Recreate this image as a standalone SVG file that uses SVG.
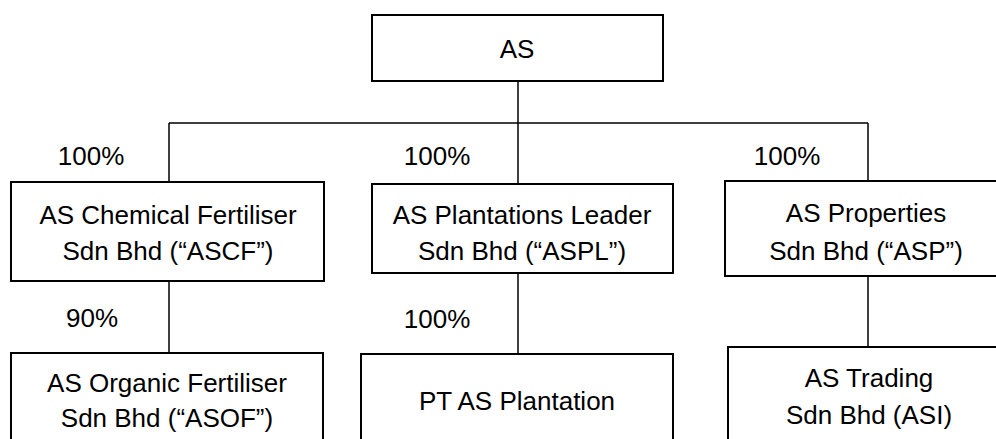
<svg xmlns="http://www.w3.org/2000/svg" width="996" height="439" viewBox="0 0 996 439">
<style>
.box{fill:#fff;stroke:#000;stroke-width:2}
.ln{fill:none;stroke:#000;stroke-width:1.5}
text{font-family:"Liberation Sans",Arial,sans-serif;font-size:26px;fill:#000;text-anchor:middle}
</style>
<rect width="996" height="439" fill="#fff"/>
<g id="connectors">
<path class="ln" d="M518 81V123M169 123H868M169 123V182M518 123V184M868 123V181"/>
<path class="ln" d="M169 281V353M518 273V354M868 276V347"/>
</g>
<g id="labels">
<text x="91" y="165">100%</text>
<text x="437" y="165">100%</text>
<text x="787" y="165">100%</text>
<text x="92" y="327">90%</text>
<text x="437" y="328">100%</text>
</g>
<g id="n-as">
<rect class="box" x="372" y="15" width="291" height="66"/>
<text x="517" y="58">AS</text>
</g>
<g id="n-ascf">
<rect class="box" x="11" y="182" width="313" height="99"/>
<text x="168" y="224">AS Chemical Fertiliser</text>
<text x="168" y="260">Sdn Bhd (“ASCF”)</text>
</g>
<g id="n-aspl">
<rect class="box" x="372" y="184" width="301" height="89"/>
<text x="522" y="224">AS Plantations Leader</text>
<text x="522" y="260">Sdn Bhd (“ASPL”)</text>
</g>
<g id="n-asp">
<rect class="box" x="725" y="181" width="290" height="95"/>
<text x="866" y="222">AS Properties</text>
<text x="866" y="260">Sdn Bhd (“ASP”)</text>
</g>
<g id="n-asof">
<rect class="box" x="11" y="353" width="312" height="100"/>
<text x="167" y="392">AS Organic Fertiliser</text>
<text x="167" y="427">Sdn Bhd (“ASOF”)</text>
</g>
<g id="n-pt">
<rect class="box" x="361" y="354" width="312" height="100"/>
<text x="517" y="410">PT AS Plantation</text>
</g>
<g id="n-asi">
<rect class="box" x="728" y="347" width="290" height="100"/>
<text x="869" y="387">AS Trading</text>
<text x="869" y="424">Sdn Bhd (ASI)</text>
</g>
</svg>
